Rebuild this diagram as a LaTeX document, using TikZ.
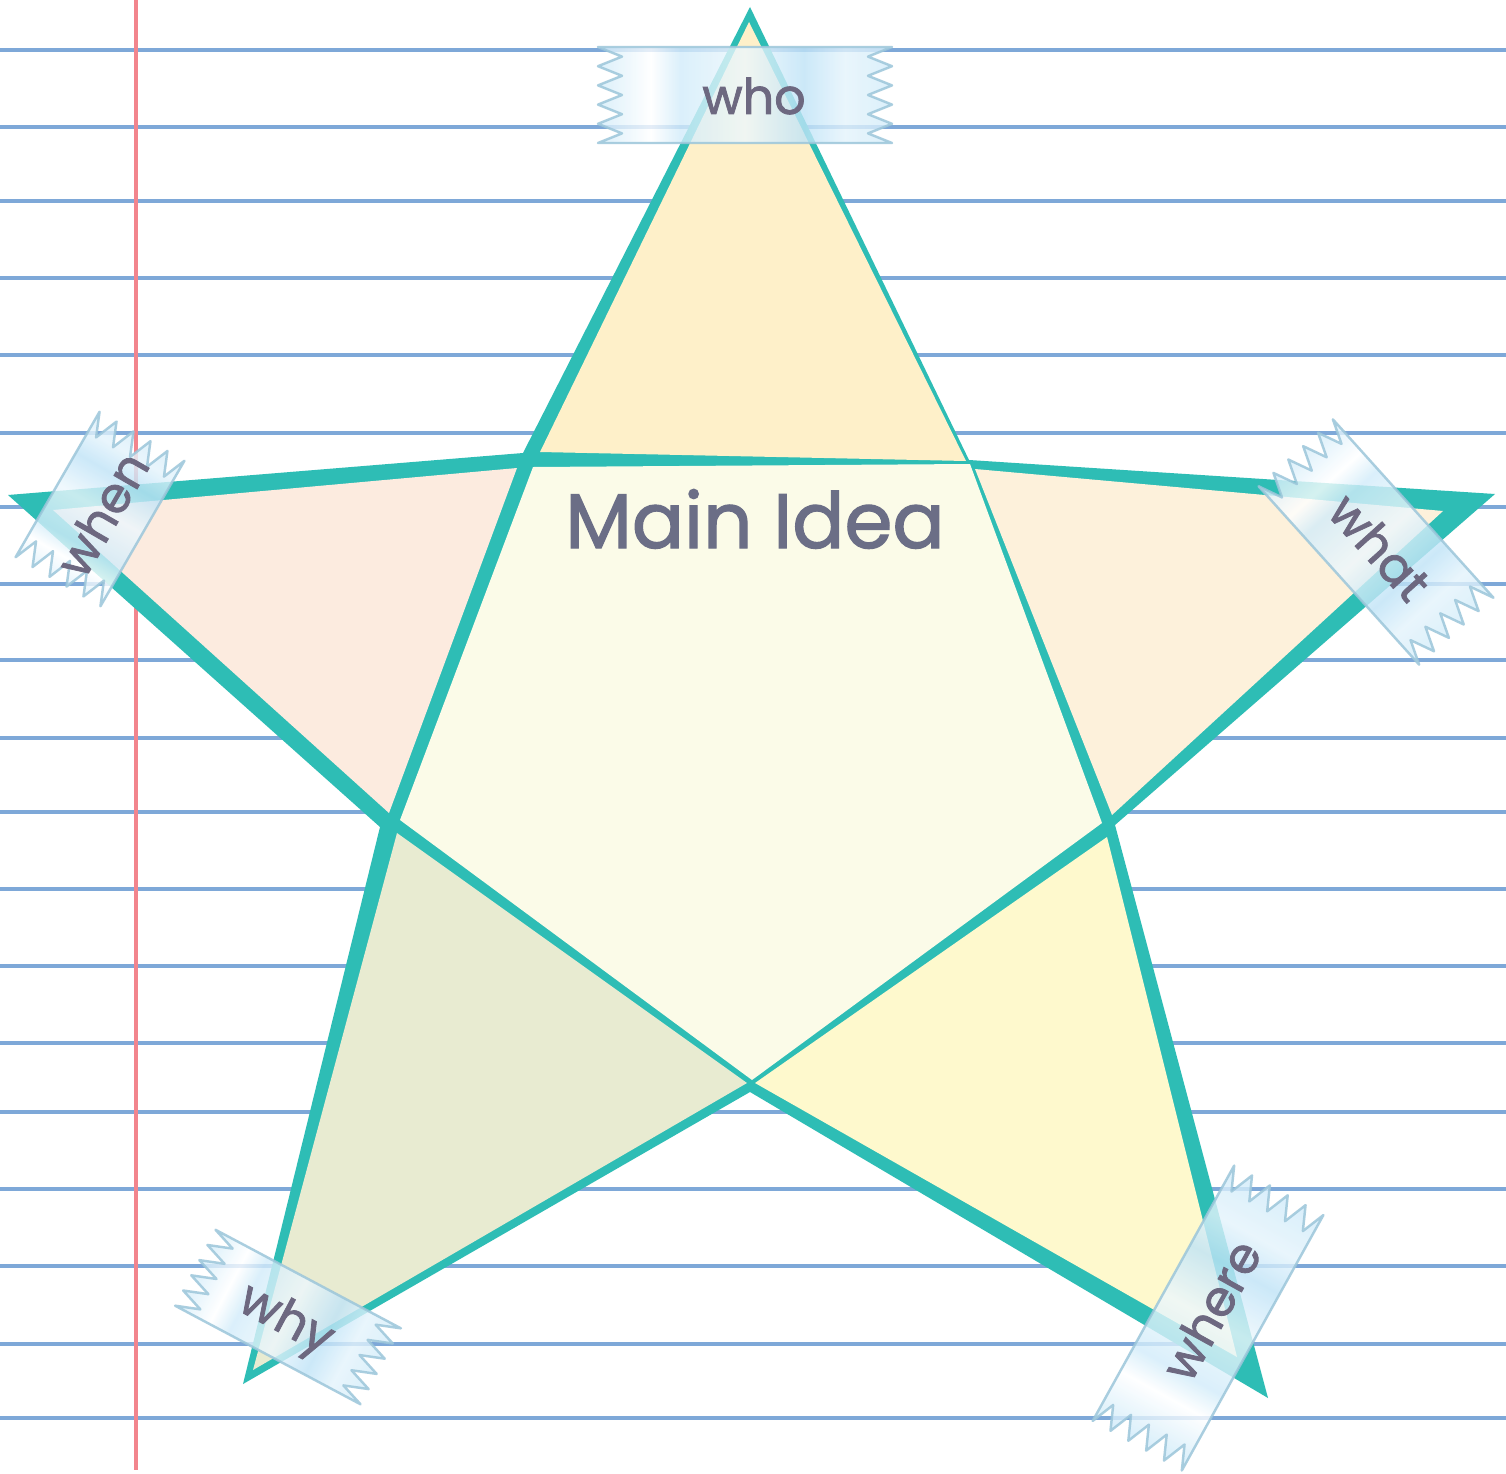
\documentclass[tikz,border=0pt]{standalone}
\usepackage{fontspec}
\setmainfont{Poppins}
\newfontfamily\labelfont{Poppins}[FakeBold=1.6]
\definecolor{starteal}{HTML}{2EBDB5}
\definecolor{ruleblue}{HTML}{7EA8D8}
\definecolor{marginred}{HTML}{F2858D}
\definecolor{whofill}{HTML}{FEF0C9}
\definecolor{whenfill}{HTML}{FCEBDF}
\definecolor{whatfill}{HTML}{FDF1DB}
\definecolor{whyfill}{HTML}{E8EBD1}
\definecolor{wherefill}{HTML}{FEF9CD}
\definecolor{ideafill}{HTML}{FBFBE8}
\definecolor{labelgray}{HTML}{6D6880}
\definecolor{ideagray}{HTML}{6B6E86}
\definecolor{tapeblue}{HTML}{D2ECFA}
\definecolor{tapedeep}{HTML}{BFE3F7}
\definecolor{tapeedge}{HTML}{9CC6DA}

\pgfdeclarehorizontalshading{tapeshade}{100bp}{color(0bp)=(tapeblue); color(25bp)=(tapeblue); color(34bp)=(white); color(39bp)=(tapeblue); color(50bp)=(white!60!tapeblue); color(60bp)=(tapedeep); color(67bp)=(white!40!tapeblue); color(75bp)=(tapeblue); color(100bp)=(tapeblue)}

\tikzset{
  rule/.style={ruleblue, line width=2.3pt},
  tape/.style={shading=tapeshade, draw=tapeedge, line width=1.4pt,
    fill opacity=0.8, draw opacity=0.85, line join=round},
  tapelabel/.style={text=labelgray, inner sep=0pt, font=\labelfont\fontsize{28}{34}\selectfont},
  idealabel/.style={text=ideagray, inner sep=0pt, font=\labelfont\fontsize{44}{52}\selectfont},
}

% strip of tape: centre, angle, half length, half width
\newcommand{\tapestrip}[4]{%
  \begin{scope}[shift={#1}, rotate=#2]
    \shadedraw[tape, shading angle=#2]
      (-#3,#4) -- (#3,#4)
      \foreach \k in {1,...,5} {
        -- ({#3-24}, {#4-(2*\k-1)*#4/5}) -- (#3, {#4-2*\k*#4/5})
      }
      -- (-#3,-#4)
      \foreach \k in {1,...,5} {
        -- ({-#3+24}, {-#4+(2*\k-1)*#4/5}) -- (-#3, {-#4+2*\k*#4/5})
      }
      -- cycle;
  \end{scope}}

\begin{document}
\begin{tikzpicture}[x=0.02cm, y=-0.02cm]
    \useasboundingbox (0,0) rectangle (1506,1473);

    % Paper
        \fill[white] (0,0) rectangle (1506,1473);
        \foreach \y in {50,127,201,278,355,433,507,584,660,738,812,889,966,1043,1112,1189,1266,1344,1418}
            \draw[rule] (0,\y) -- (1506,\y);
        \draw[marginred, line width=2.3pt] (136,0) -- (136,1470);

    % Star
        %% outer points and corners
        \coordinate (T)   at (750,7);
        \coordinate (ULo) at (523,453);
        \coordinate (L)   at (8,495);
        \coordinate (LLo) at (380,827);
        \coordinate (BL)  at (243,1384);
        \coordinate (Bo)  at (750,1092);
        \coordinate (BR)  at (1268,1398);
        \coordinate (LRo) at (1115,825);
        \coordinate (R)   at (1495,494);
        \coordinate (URo) at (969,460);

        %% outline
        \fill[starteal] (T) -- (ULo) -- (L) -- (LLo) -- (BL) -- (Bo)
            -- (BR) -- (LRo) -- (R) -- (URo) -- cycle;

        %% arms
        \fill[whofill]   (749,22) -- (540,452) -- (966,461) -- cycle;
        \fill[whenfill]  (53,510) -- (517,468) -- (389,813) -- cycle;
        \fill[whatfill]  (975,469) -- (1443,511) -- (1112,815) -- cycle;
        \fill[whyfill]   (397,833) -- (747,1083) -- (253,1370) -- cycle;
        \fill[wherefill] (755,1083) -- (1107,837) -- (1237,1357) -- cycle;

        %% centre
        \fill[ideafill] (533,467) -- (970,464) -- (1102,823) -- (752,1080)
            -- (400,820) -- cycle;
        \node[idealabel, anchor=base] (mainidea) at (755,548) {Main Idea};

    % Tape
        \tapestrip{(745,95)}{0}{147}{48}
        \tapestrip{(100,509)}{60}{84}{49}
        \tapestrip{(1376,542)}{-48}{120}{50}
        \tapestrip{(288,1317)}{-28}{105}{43}
        \tapestrip{(1208,1318)}{61}{146}{51}

        %% labels
        \node[tapelabel] (who) at (754,96) {who};
        \node[tapelabel, rotate=60] (when) at (102,514) {when};
        \node[tapelabel, rotate=-48] (what) at (1380,547) {what};
        \node[tapelabel, rotate=-28] (why) at (285,1322) {why};
        \node[tapelabel, rotate=61] (where) at (1211,1310) {where};

\end{tikzpicture}
\end{document}
